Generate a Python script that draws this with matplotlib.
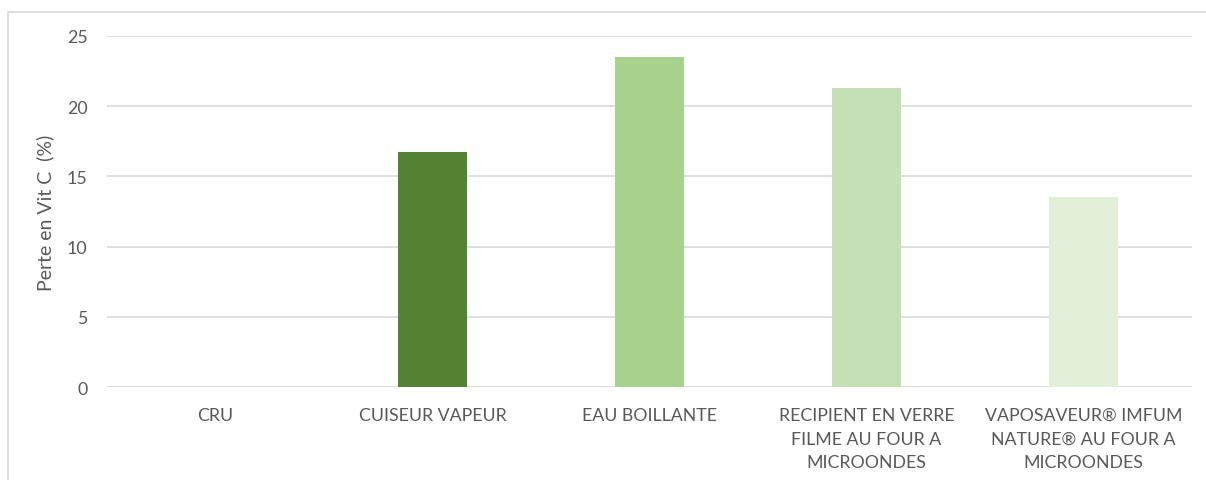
import matplotlib
matplotlib.use("Agg")
import matplotlib.pyplot as plt
from matplotlib.patches import Rectangle

categories = ["CRU", "CUISEUR VAPEUR", "EAU BOILLANTE",
              "RECIPIENT EN VERRE\nFILME AU FOUR A\nMICROONDES",
              "VAPOSAVEUR® IMFUM\nNATURE® AU FOUR A\nMICROONDES"]
values = [0, 16.7, 23.5, 21.3, 13.5]
colors = ["#548235", "#548235", "#A9D18E", "#C5E0B4", "#E2F0D9"]
yticks = [0, 5, 10, 15, 20, 25]
ylabel = "Perte en Vit C  (%)"

plt.rcParams['font.family'] = ['Lato', 'DejaVu Sans']
W, H = 1206, 481
fig = plt.figure(figsize=(W / 100, H / 100), dpi=100)
ax = fig.add_axes([107 / W, 1 - 388.3 / H, (1192 - 107) / W, (388.3 - 36.7) / H])

x = list(range(len(categories)))
ax.bar(x, values, width=0.318, color=colors, zorder=2)
ax.set_xlim(-0.5, len(categories) - 0.5)
ax.set_ylim(0, 25)
ax.set_yticks(yticks)
ax.set_xticks(x)
ax.set_xticklabels(categories, linespacing=1.6)
ax.grid(axis='y', color='#D9D9D9', linewidth=1.2, zorder=0)
for s in ax.spines.values():
    s.set_visible(False)
ax.tick_params(axis='both', length=0, colors='#595959', labelsize=12.8)
ax.tick_params(axis='x', pad=14)
ax.tick_params(axis='y', pad=14)
ax.set_ylabel(ylabel, color='#595959', fontsize=14, labelpad=9)

fig.patches.append(Rectangle((8 / W, -0.1), 1.2, 1 - 13 / H + 0.1,
                             transform=fig.transFigure, fill=False,
                             edgecolor='#D9D9D9', linewidth=1.2, zorder=0))
fig.savefig("out.png", dpi=100)
